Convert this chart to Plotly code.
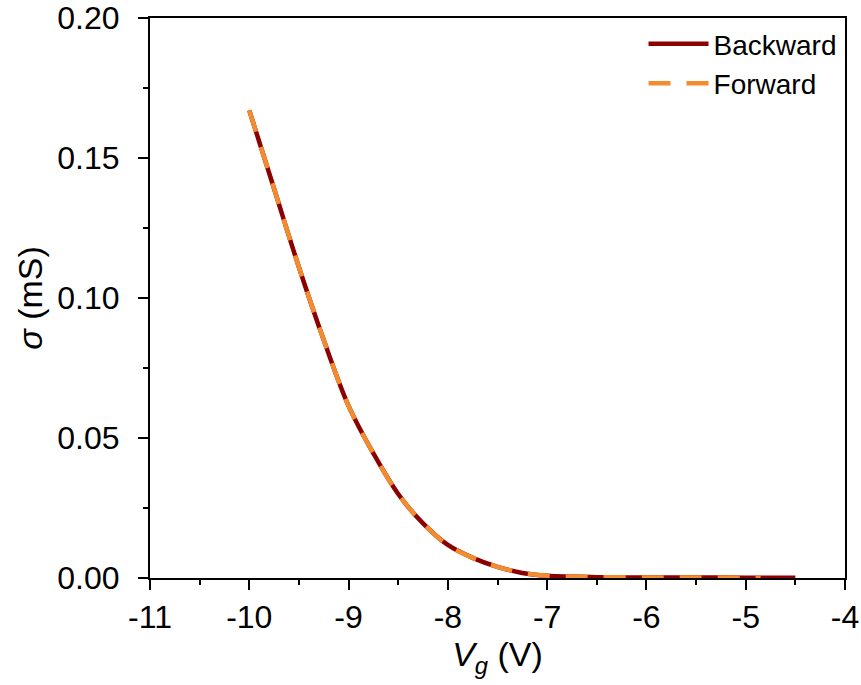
import plotly.graph_objects as go

# Gate voltage (V) and conductivity (mS)
vg_backward = [-10.0, -9.75, -9.5, -9.25, -9.0, -8.75, -8.5, -8.25, -8.0, -7.75,
               -7.5, -7.25, -7.0, -6.75, -6.5, -6.0, -5.5, -5.0, -4.5]
sigma_backward = [0.167, 0.139, 0.111, 0.085, 0.0615, 0.0445, 0.030, 0.0195, 0.0118,
                  0.0072, 0.0040, 0.0018, 0.0008, 0.0005, 0.0003, 0.0002, 0.0002, 0.0001, 0.0001]

vg_forward = [-10.0, -9.75, -9.5, -9.25, -9.0, -8.75, -8.5, -8.25, -8.0, -7.75,
              -7.5, -7.25, -7.0, -6.75, -6.5, -6.0, -5.5, -5.0, -4.85]
sigma_forward = [0.167, 0.139, 0.111, 0.085, 0.0615, 0.0445, 0.030, 0.0195, 0.0118,
                 0.0072, 0.0040, 0.0018, 0.0008, 0.0005, 0.0003, 0.0002, 0.0002, 0.0001, 0.0001]

x_ticks = [-11, -10, -9, -8, -7, -6, -5, -4]
y_ticks = [0.00, 0.05, 0.10, 0.15, 0.20]
y_tick_labels = ["0.00", "0.05", "0.10", "0.15", "0.20"]

FONT = "Liberation Sans, Arial, sans-serif"

fig = go.Figure()
fig.add_trace(go.Scatter(x=vg_backward, y=sigma_backward, mode="lines", name="Backward",
                         line=dict(color="#8B0000", width=4.5, shape="spline")))
fig.add_trace(go.Scatter(x=vg_forward, y=sigma_forward, mode="lines", name="Forward",
                         line=dict(color="#F28C2E", width=4.5, dash="22px,16px", shape="spline")))

axis_common = dict(showline=True, linecolor="black", linewidth=2, mirror=True,
                   ticks="outside", ticklen=10, tickwidth=2, tickcolor="black",
                   showgrid=False, zeroline=False, automargin=False,
                   tickfont=dict(family=FONT, size=32, color="black"))

fig.update_xaxes(range=[-11, -4], tickvals=x_ticks, ticktext=[f"{v}" for v in x_ticks],
                 minor=dict(ticks="outside", ticklen=5, tickwidth=2, tickcolor="black", dtick=0.5, tick0=-11),
                 title=dict(text="<i>V</i><sub><i>g</i></sub> (V)", font=dict(family=FONT, size=34, color="black"),
                            standoff=2),
                 **axis_common)
fig.update_yaxes(range=[0, 0.2], tickvals=y_ticks, ticktext=y_tick_labels,
                 ticklabelstandoff=12,
                 minor=dict(ticks="outside", ticklen=5, tickwidth=2, tickcolor="black", dtick=0.025, tick0=0),
                 title=dict(text="<i>σ</i> (mS)", font=dict(family=FONT, size=34, color="black"),
                            standoff=4),
                 **axis_common)

fig.update_layout(width=861, height=685, plot_bgcolor="white", paper_bgcolor="white",
                  margin=dict(l=150, r=16, t=18, b=107),
                  legend=dict(x=0.995, y=0.998, xanchor="right", yanchor="top",
                              bgcolor="rgba(0,0,0,0)", borderwidth=0,
                              font=dict(family=FONT, size=28, color="black"),
                              tracegroupgap=0, itemwidth=60),
                  showlegend=True)

fig.write_html("out.html", config={"displayModeBar": False},
               post_script="document.body.style.margin='0';document.body.style.overflow='hidden';")
